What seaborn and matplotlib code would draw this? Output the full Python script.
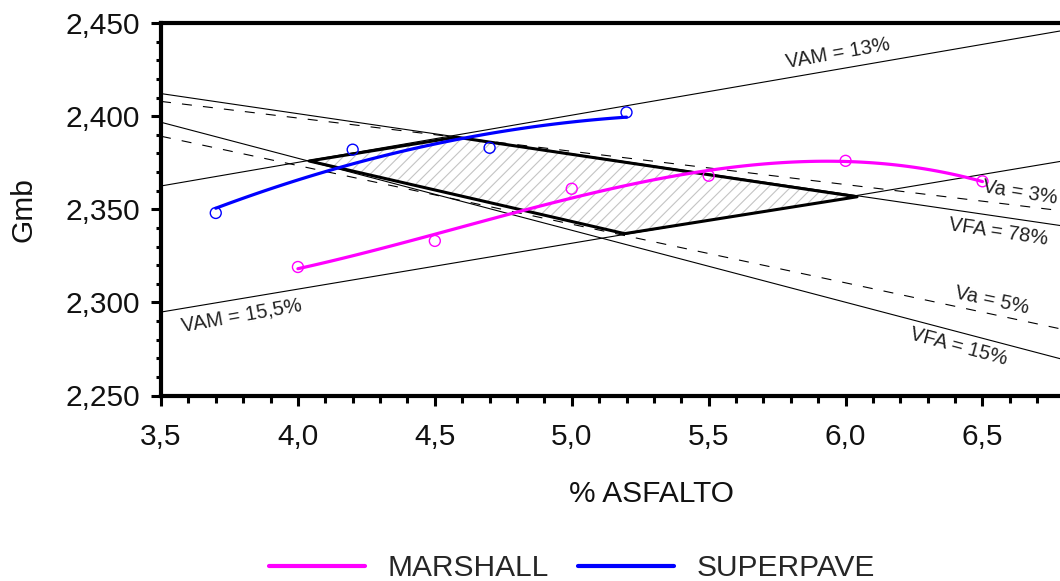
import numpy as np
import pandas as pd
import matplotlib
matplotlib.use("Agg")
import matplotlib.pyplot as plt
from matplotlib.patches import Polygon
from matplotlib.ticker import FuncFormatter, MultipleLocator, FixedLocator
import seaborn as sns

# Measured mixes: asphalt content (%) and bulk specific gravity
asfalto_marshall = [4.0, 4.5, 5.0, 5.5, 6.0, 6.5]
gmb_marshall = [2.319, 2.333, 2.361, 2.368, 2.376, 2.365]
asfalto_superpave = [3.7, 4.2, 4.7, 5.2]
gmb_superpave = [2.348, 2.382, 2.383, 2.402]

# Axis tick values
ticks_x = [3.5, 4.0, 4.5, 5.0, 5.5, 6.0, 6.5]
ticks_y = [2.250, 2.300, 2.350, 2.400, 2.450]

# Volumetric criteria lines (Gmb at both ends of the asphalt range)
guia_x = [3.5, 7.0]
vam_13 = [2.3625, 2.4512]
vam_155 = [2.2948, 2.3810]
vfa_78 = [2.4121, 2.3366]
va_3 = [2.4079, 2.3454]
vfa_15 = [2.3967, 2.2614]
va_5 = [2.3892, 2.2790]

# Acceptable zone bounded by the criteria
zona_x = [4.041, 4.579, 6.042, 5.193]
zona_gmb = [2.3759, 2.3887, 2.3567, 2.3369]

sns.set_theme(style="ticks")
plt.rcParams["font.family"] = ["Liberation Sans", "DejaVu Sans"]
plt.rcParams["hatch.linewidth"] = 0.8

FS = 21.5
fig = plt.figure(figsize=(10.6, 5.81), dpi=100)
ax = fig.add_axes([161 / 1060, 1 - 395.5 / 581, (1119.4 - 161) / 1060, 372.5 / 581])

# criteria lines
thin = dict(color="black", lw=0.8)
dash = dict(color="black", lw=0.8, linestyle=(0, (9, 10)))
ax.plot(guia_x, vam_13, **thin)
ax.plot(guia_x, vam_155, **thin)
ax.plot(guia_x, vfa_78, **thin)
ax.plot(guia_x, vfa_15, **thin)
ax.plot(guia_x, va_3, **dash)
ax.plot(guia_x, va_5, **dash)

# hatched acceptable zone
pts = np.column_stack([zona_x, zona_gmb])
ax.add_patch(Polygon(pts, closed=True, facecolor="white", edgecolor="#c4c4c4",
                     lw=0, hatch="///", zorder=2))
ax.add_patch(Polygon(pts, closed=True, fill=False, edgecolor="black",
                     lw=2.2, joinstyle="round", zorder=3))

# fitted trend curves
def curva(x, y, grau, n=120):
    coef = np.polyfit(x, y, grau)
    xs = np.linspace(min(x), max(x), n)
    return pd.DataFrame({"x": xs, "y": np.polyval(coef, xs)})

cm = curva(asfalto_marshall, gmb_marshall, 3)
cs = curva(asfalto_superpave, gmb_superpave, 2)
sns.lineplot(data=cm, x="x", y="y", color="#ff00ff", lw=2.3, ax=ax,
             estimator=None, sort=False, label="MARSHALL", zorder=4)
sns.lineplot(data=cs, x="x", y="y", color="#0000ff", lw=2.3, ax=ax,
             estimator=None, sort=False, label="SUPERPAVE", zorder=4)

pm = pd.DataFrame({"x": asfalto_marshall, "y": gmb_marshall})
ps = pd.DataFrame({"x": asfalto_superpave, "y": gmb_superpave})
sns.scatterplot(data=pm, x="x", y="y", marker="o", s=62, facecolor="none",
                edgecolor="#ff00ff", linewidth=1.0, ax=ax, zorder=5)
sns.scatterplot(data=ps, x="x", y="y", marker="o", s=62, facecolor="none",
                edgecolor="#0000ff", linewidth=1.0, ax=ax, zorder=5)

# line labels
lab = dict(fontsize=14.5, color="#222222", ha="center", va="center",
           rotation_mode="anchor", zorder=6)
ax.text(5.973, 2.4335, "VAM = 13%", rotation=10, **lab)
ax.text(3.796, 2.2927, "VAM = 15,5%", rotation=10, **lab)
ax.text(6.638, 2.3588, "Va = 3%", rotation=-9, **lab)
ax.text(6.558, 2.3380, "VFA = 78%", rotation=-8.5, **lab)
ax.text(6.536, 2.3012, "Va = 5%", rotation=-12, **lab)
ax.text(6.415, 2.2761, "VFA = 15%", rotation=-15, **lab)

# axes
ax.set_xlim(3.5, 7.0)
ax.set_ylim(2.250, 2.450)
ax.xaxis.set_major_locator(FixedLocator(ticks_x))
ax.xaxis.set_minor_locator(MultipleLocator(0.1))
ax.yaxis.set_major_locator(FixedLocator(ticks_y))
ax.yaxis.set_minor_locator(MultipleLocator(0.01))
ax.xaxis.set_major_formatter(FuncFormatter(lambda v, p: f"{v:.1f}".replace(".", ",")))
ax.yaxis.set_major_formatter(FuncFormatter(lambda v, p: f"{v:.3f}".replace(".", ",")))
ax.tick_params(axis="both", which="both", direction="out", width=2.2, color="black",
               labelsize=FS, labelcolor="#111111")
ax.tick_params(axis="y", which="major", length=7, pad=8)
ax.tick_params(axis="y", which="minor", length=3.5)
ax.tick_params(axis="x", which="major", length=7, pad=13)
ax.tick_params(axis="x", which="minor", length=5)
for s in ["left", "bottom", "top"]:
    ax.spines[s].set_linewidth(3)
    ax.spines[s].set_color("black")
ax.spines["right"].set_visible(False)

ax.set_xlabel("% ASFALTO", fontsize=FS, color="#111111", va="center")
ax.set_ylabel("Gmb", fontsize=FS, color="#111111", va="center")
ax.xaxis.set_label_coords((651 - 161) / 958.4, (395.5 - 494) / 372.5)
ax.yaxis.set_label_coords((24 - 161) / 958.4, 0.5)

ax.legend_.remove()
h, l = ax.get_legend_handles_labels()
fig.legend(h, l, loc="center", bbox_to_anchor=(572 / 1060, 1 - 568 / 581), ncol=2,
           frameon=False, fontsize=FS, handlelength=3.2, handletextpad=0.75,
           columnspacing=1.0, borderaxespad=0, borderpad=0)
for line in fig.legends[0].get_lines():
    line.set_linewidth(3)

fig.savefig("out.png", dpi=100)
